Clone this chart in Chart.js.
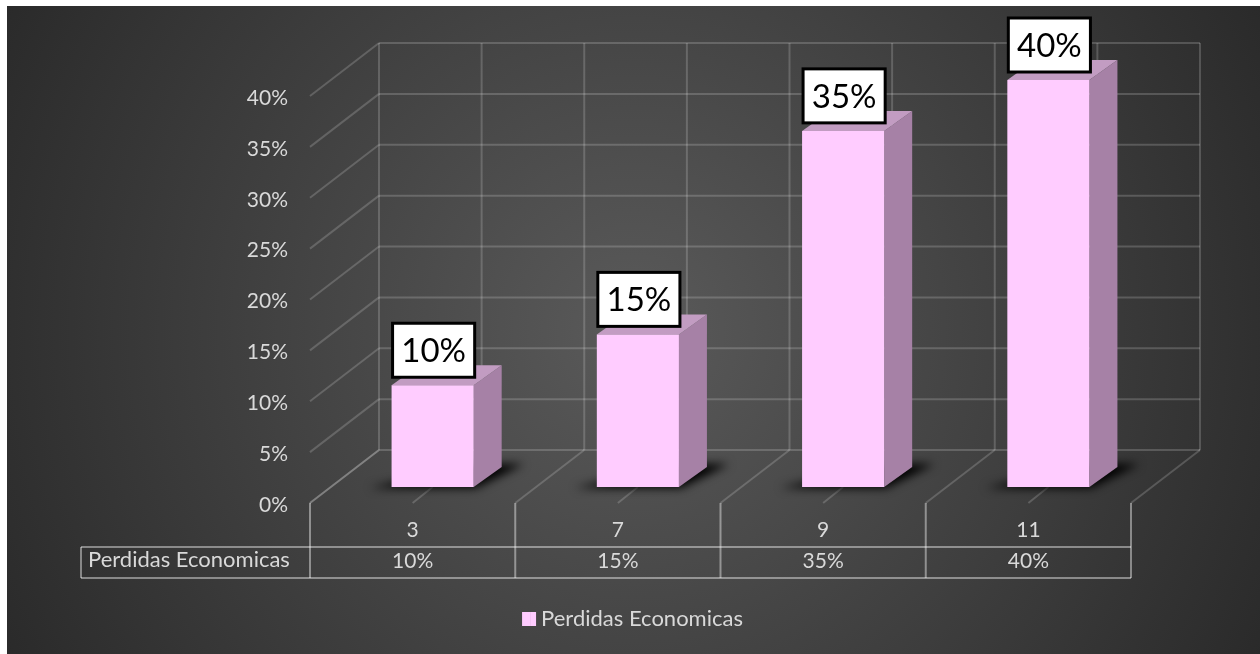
<!DOCTYPE html>
<html>
<head>
<meta charset="utf-8">
<title>Perdidas Economicas</title>
<script src="https://cdn.jsdelivr.net/npm/chart.js@4"></script>
<style>
html, body { margin: 0; padding: 0; background: #fff; overflow: hidden; }
#fondo {
    position: absolute; left: 7px; top: 6px; width: 1253px; height: 648px;
    background: radial-gradient(circle 710px at 50% 50%, #5a5a5a 0%, #2a2a2a 100%);
}
#grafico { position: absolute; left: 0; top: 0; }
</style>
</head>
<body>
<div id="fondo"></div>
<canvas id="grafico" width="1260" height="654"></canvas>
<script>
var categorias = ['3', '7', '9', '11'];
var perdidas = [10, 15, 35, 40];
var serie = 'Perdidas Economicas';
var marcasY = [0, 5, 10, 15, 20, 25, 30, 35, 40];

var fuente = 'Lato, "Open Sans", sans-serif';

// offsets of the fake 3d planes, measured from the plane the bars stand on
var fondoX = 49, fondoY = -37;
var frenteX = -20, frenteY = 16;

function linea(ctx, x1, y1, x2, y2) {
    ctx.beginPath();
    ctx.moveTo(x1, y1);
    ctx.lineTo(x2, y2);
    ctx.stroke();
}

function poligono(ctx, puntos, color) {
    ctx.fillStyle = color;
    ctx.beginPath();
    ctx.moveTo(puntos[0][0], puntos[0][1]);
    for (var i = 1; i < puntos.length; i++) ctx.lineTo(puntos[i][0], puntos[i][1]);
    ctx.closePath();
    ctx.fill();
}

var escena = {
    id: 'escena',
    beforeDatasetsDraw: function (chart) {
        var ctx = chart.ctx, area = chart.chartArea, y = chart.scales.y, x = chart.scales.x;
        var ancho = (area.right - area.left) / categorias.length;
        var i, py;

        ctx.save();
        ctx.lineWidth = 2;
        ctx.strokeStyle = 'rgba(255,255,255,0.18)';

        // back wall and left wall
        for (i = 0; i < marcasY.length; i++) {
            py = y.getPixelForValue(marcasY[i]);
            linea(ctx, area.left + fondoX, py + fondoY, area.right + fondoX, py + fondoY);
            linea(ctx, area.left + frenteX, py + frenteY, area.left + fondoX, py + fondoY);
        }
        var arriba = area.top + fondoY, abajo = area.bottom + fondoY;
        for (i = 0; i <= categorias.length * 2; i++) {
            var vx = area.left + fondoX + i * ancho / 2;
            linea(ctx, vx, arriba, vx, abajo);
        }
        // floor
        for (i = 0; i <= categorias.length; i++) {
            var bx = area.left + i * ancho;
            linea(ctx, bx + frenteX, area.bottom + frenteY, bx + fondoX, abajo);
        }
        // table under the floor
        var tablaArriba = 547, tablaAbajo = 578, tablaIzq = 81;
        ctx.strokeStyle = 'rgba(255,255,255,0.42)';
        linea(ctx, tablaIzq, tablaArriba, area.right + frenteX, tablaArriba);
        linea(ctx, tablaIzq, tablaAbajo, area.right + frenteX, tablaAbajo);
        linea(ctx, tablaIzq, tablaArriba, tablaIzq, tablaAbajo);
        for (i = 0; i <= categorias.length; i++) {
            var tx = area.left + i * ancho + frenteX;
            linea(ctx, tx, area.bottom + frenteY, tx, tablaAbajo);
        }
        ctx.fillStyle = '#d9d9d9';
        ctx.font = '22px ' + fuente;
        ctx.textAlign = 'left';
        ctx.textBaseline = 'middle';
        ctx.fillText(serie, 88, 560);

        // category tick on the floor
        ctx.strokeStyle = 'rgba(255,255,255,0.18)';
        for (i = 0; i < categorias.length; i++) {
            var cx = x.getPixelForTick(i);
            linea(ctx, cx, area.bottom, cx + frenteX, area.bottom + frenteY);
        }

        // shadows, sides and tops of the bars
        var barras = chart.getDatasetMeta(0).data;
        for (i = 0; i < barras.length; i++) {
            var b = barras[i], izq = b.x - b.width / 2, der = b.x + b.width / 2;
            var pf = 28, pa = 20;
            ctx.save();
            ctx.filter = 'blur(5px)';
            poligono(ctx, [[izq - 22, b.base + 1], [der + 2, b.base + 1], [der + 50, b.base - 23], [der, b.base - 23]], '#000000');
            ctx.restore();
            poligono(ctx, [[der, b.y], [der + pf, b.y - pa], [der + pf, b.base - pa], [der, b.base]], '#a681a6');
            poligono(ctx, [[izq, b.y], [izq + pf, b.y - pa], [der + pf, b.y - pa], [der, b.y]], '#c29cc2');
        }
        ctx.restore();
    },
    afterDatasetsDraw: function (chart) {
        var ctx = chart.ctx;
        var barras = chart.getDatasetMeta(0).data;
        ctx.save();
        for (var i = 0; i < barras.length; i++) {
            var b = barras[i], izq = b.x - b.width / 2;
            var alto = 54, sube = 8;
            ctx.fillStyle = '#ffffff';
            ctx.strokeStyle = '#000000';
            ctx.lineWidth = 3;
            ctx.fillRect(izq + 1, b.y - sube - alto, b.width, alto);
            ctx.strokeRect(izq + 1, b.y - sube - alto, b.width, alto);
            ctx.fillStyle = '#000000';
            ctx.font = '33px ' + fuente;
            ctx.textAlign = 'center';
            ctx.textBaseline = 'middle';
            ctx.fillText(perdidas[i] + '%', b.x + 1, b.y - sube - alto / 2 + 1);
        }
        ctx.restore();
    },
    afterDraw: function (chart) {
        // legend gap is tied to the font size, so the key is widened past its box
        var caja = chart.legend.legendHitBoxes[0];
        var ctx = chart.ctx;
        ctx.save();
        ctx.fillStyle = '#ffccff';
        ctx.fillRect(caja.left + 8, caja.top + (caja.height - 14) / 2, 6, 14);
        ctx.restore();
    }
};

new Chart(document.getElementById('grafico'), {
    type: 'bar',
    data: {
        labels: categorias,
        datasets: [{
            label: serie,
            data: perdidas,
            backgroundColor: '#ffccff',
            borderWidth: 0,
            barPercentage: 0.4,
            categoryPercentage: 1
        }]
    },
    options: {
        responsive: false,
        animation: false,
        devicePixelRatio: 1,
        layout: { padding: { top: 80, right: 109, bottom: 14, left: 114 } },
        plugins: {
            tooltip: { enabled: false },
            legend: {
                position: 'bottom',
                labels: {
                    color: '#d9d9d9',
                    font: { family: fuente, size: 22 },
                    boxWidth: 8,
                    boxHeight: 14,
                    padding: 10
                }
            }
        },
        scales: {
            x: {
                grid: { display: false },
                border: { display: false },
                afterFit: function (escala) { escala.height = 111; },
                ticks: {
                    color: '#d9d9d9',
                    font: { family: fuente, size: 21, lineHeight: 1.48 },
                    padding: 20,
                    labelOffset: frenteX,
                    maxRotation: 0,
                    callback: function (valor, i) { return [categorias[i], perdidas[i] + '%']; }
                }
            },
            y: {
                min: 0,
                max: 40,
                grid: { display: false },
                border: { display: false },
                afterFit: function (escala) { escala.width = 216; },
                ticks: {
                    stepSize: 5,
                    color: '#d9d9d9',
                    font: { family: fuente, size: 21 },
                    padding: 34,
                    labelOffset: 18,
                    callback: function (valor) { return valor + '%'; }
                }
            }
        }
    },
    plugins: [escena]
});
</script>
</body>
</html>
